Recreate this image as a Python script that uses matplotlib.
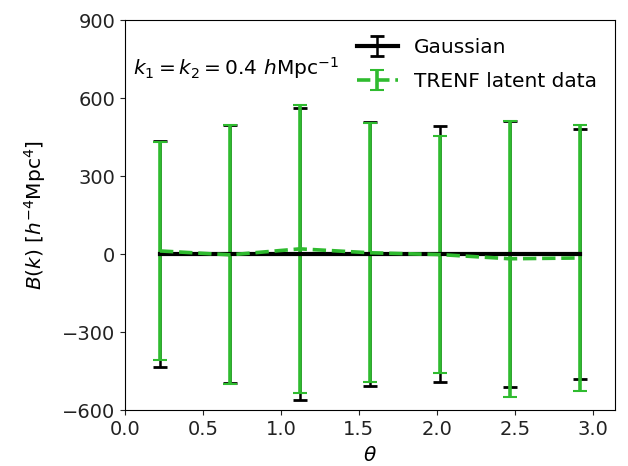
import numpy as np
import matplotlib
matplotlib.use("Agg")
import matplotlib.pyplot as plt

# Bin centres in opening angle theta
theta = (np.arange(7) + 0.5) * np.pi / 7

# Gaussian reference bispectrum and its spread
gauss_mean = [0, 0, 0, 0, 0, 0, 0]
gauss_err = [435, 495, 563, 507, 492, 510, 480]

# Bispectrum measured on TRENF latent-space data
trenf_mean = [12, -3, 20, 5, -2, -18, -15]
trenf_err = [420, 498, 555, 498, 455, 531, 511]

fig = plt.figure(figsize=(6.28, 4.66), dpi=100)
ax = fig.add_axes([0.199, 0.120, 0.780, 0.837])

ax.errorbar(theta, gauss_mean, yerr=gauss_err, color="black", lw=3.0,
            elinewidth=1.8, capsize=5, capthick=2.0, label="Gaussian")
ax.errorbar(theta, trenf_mean, yerr=trenf_err, color="#2fbb2f", lw=2.6,
            ls="--", elinewidth=2.6, capsize=5, capthick=1.5,
            label="TRENF latent data")

ax.set_xlim(0, np.pi)
ax.set_ylim(-600, 900)
ax.set_yticks([-600, -300, 0, 300, 600, 900])
ax.set_xticks([0.0, 0.5, 1.0, 1.5, 2.0, 2.5, 3.0])
ax.tick_params(labelsize=14, colors="#222222")

ax.set_xlabel(r"$\theta$", fontsize=14.5, labelpad=5)
ax.set_ylabel(r"$B(k)$ [$h^{-4}$Mpc$^{4}$]", fontsize=14.5, labelpad=10)

ax.text(0.016, 0.877, r"$k_1 = k_2 = 0.4\ h\mathrm{Mpc}^{-1}$",
        transform=ax.transAxes, fontsize=14.5, va="center", ha="left")
ax.legend(loc="upper right", frameon=False, fontsize=14.5,
          bbox_to_anchor=(1.0, 1.0), handlelength=2.0, labelspacing=0.75)

fig.savefig("out.png", dpi=100)
